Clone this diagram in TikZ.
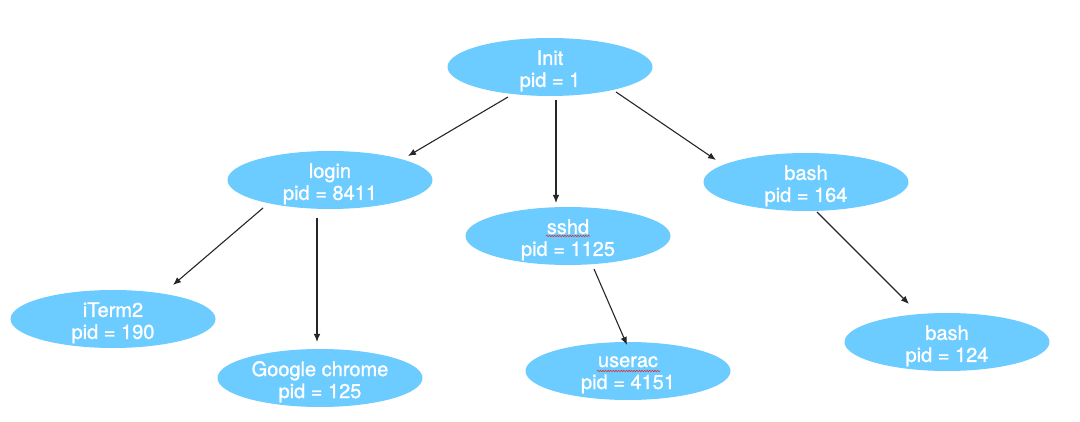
\documentclass[tikz,border=0pt]{standalone}
\usepackage{fontspec}
\setmainfont{TeX Gyre Heros}[FakeBold=1.2]
\usetikzlibrary{shapes.geometric,arrows.meta,calc,decorations.pathmorphing}
\definecolor{nodeblue}{HTML}{6CCBFF}
\definecolor{squig}{HTML}{E03030}
\tikzset{
  proc/.style={ellipse, fill=nodeblue, draw=none, minimum width=205pt, minimum height=58pt,
    inner sep=0pt},
  txt/.style={text=white, align=center, inner sep=0pt, yshift=-3.8pt,
    font=\fontsize{20}{22}\selectfont},
  arr/.style={draw=black!85, line width=1.1pt, -{Latex[length=8pt,width=6.5pt]}},
  spell/.style={draw=squig, line width=0.6pt, decorate,
    decoration={snake, amplitude=0.7pt, segment length=2.6pt}}
}
\begin{document}
\begin{tikzpicture}[x=1pt,y=-1pt]
\useasboundingbox (0,0) rectangle (1080,422);
\node[proc, label={[txt]center:Init\\pid = 1}] (init) at (550,67) {};
\node[proc, label={[txt]center:login\\pid = 8411}] (login) at (330,180) {};
\node[proc, label={[txt]center:sshd\\pid = 1125}] (sshd) at (568,236) {};
\node[proc, label={[txt]center:bash\\pid = 164}] (bash1) at (806,182) {};
\node[proc, label={[txt]center:iTerm2\\pid = 190}] (iterm) at (113,319) {};
\node[proc, label={[txt]center:Google chrome\\pid = 125}] (chrome) at (320,378) {};
\node[proc, label={[txt]center:userac\\pid = 4151}] (userac) at (628,371) {};
\node[proc, label={[txt]center:bash\\pid = 124}] (bash2) at (947,342) {};

\draw[arr] ($(init)+(-42,30)$) -- ($(login)+(78,-24)$);
\draw[arr] ($(init)+(6,33)$) -- ($(sshd)+(-12,-33)$);
\draw[arr] ($(init)+(66,25)$) -- ($(bash1)+(-90,-22)$);
\draw[arr] ($(login)+(-67,28)$) -- ($(iterm)+(60,-34)$);
\draw[arr] ($(login)+(-13,38)$) -- ($(chrome)+(-3,-36)$);
\draw[arr] ($(sshd)+(26,33)$) -- ($(userac)+(-1,-26)$);
\draw[arr] ($(bash1)+(11,30)$) -- ($(bash2)+(-38,-38)$);

\draw[spell] ($(sshd)+(-22,0)$) -- ($(sshd)+(22,0)$);
\draw[spell] ($(userac)+(-31,0)$) -- ($(userac)+(32,0)$);
\end{tikzpicture}
\end{document}
